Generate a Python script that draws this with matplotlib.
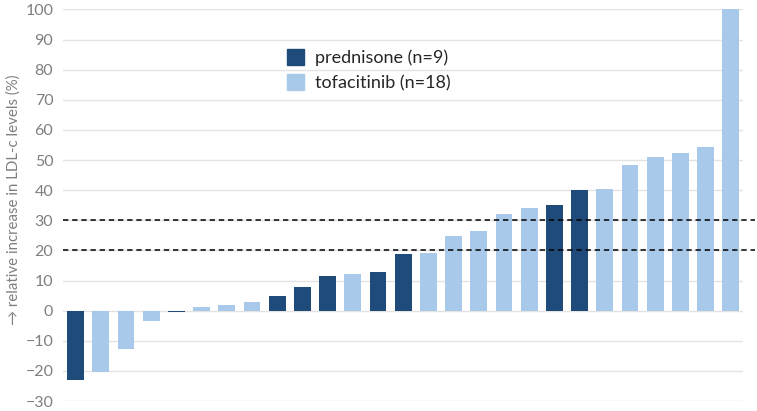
import numpy as np
import matplotlib
matplotlib.use("Agg")
from matplotlib import pyplot as plt
from matplotlib.patches import Patch

plt.rcParams['font.family'] = ['Lato', 'DejaVu Sans']

# relative LDL-c change per patient, sorted
values = [-23.1, -20.5, -12.7, -3.6, -0.6, 1.1, 1.8, 2.9, 4.7, 7.9,
          11.5, 12.3, 12.9, 18.9, 19.3, 24.7, 26.5, 32.1, 34.1, 35.1,
          40.1, 40.5, 48.3, 50.9, 52.3, 54.4, 100]
groups = ['P', 'T', 'T', 'T', 'P', 'T', 'T', 'T', 'P', 'P',
          'P', 'T', 'P', 'P', 'T', 'T', 'T', 'T', 'T', 'P',
          'P', 'T', 'T', 'T', 'T', 'T', 'T']
thresholds = [20, 30]
legend_labels = ['prednisone (n=9)', 'tofacitinib (n=18)']

dark = '#1f4b7a'
light = '#a9c9ea'
gray = '#7f7f7f'

fig = plt.figure(figsize=(7.57, 4.11), dpi=100)
ax = fig.add_axes([0.0832, 0.0243, 0.8988, 0.9527])

x = np.arange(len(values))
cols = [dark if g == 'P' else light for g in groups]
ax.bar(x, values, width=0.67, color=cols, zorder=3)

for t in thresholds:
    ax.hlines(t, -0.5, 26.95, colors='black', linestyles=(0, (3.5, 2.5)),
              linewidth=1.1, clip_on=False, zorder=4)

ax.set_xlim(-0.5, 26.5)
ax.set_ylim(-30, 100)
ax.set_yticks(np.arange(-30, 101, 10))
ax.yaxis.grid(True, color='#e3e3e3', linewidth=1, zorder=0)
ax.set_axisbelow(True)
ax.set_xticks([])
for s in ax.spines.values():
    s.set_visible(False)
ax.tick_params(axis='y', length=0, labelsize=11.5, labelcolor=gray, pad=7)
ax.set_ylabel('\u2192 relative increase in LDL-c levels (%)', fontsize=10.8,
              color=gray)
ax.yaxis.set_label_coords(-0.062, 0.515)

handles = [Patch(color=dark), Patch(color=light)]
fig.legend(handles, legend_labels, loc='upper left', bbox_to_anchor=(0.367, 0.902),
           frameon=False, handlelength=0.95, handleheight=0.95, handletextpad=0.6,
           labelspacing=0.45, fontsize=13, labelcolor='#262626', borderpad=0)

fig.savefig('out.png', dpi=100)
